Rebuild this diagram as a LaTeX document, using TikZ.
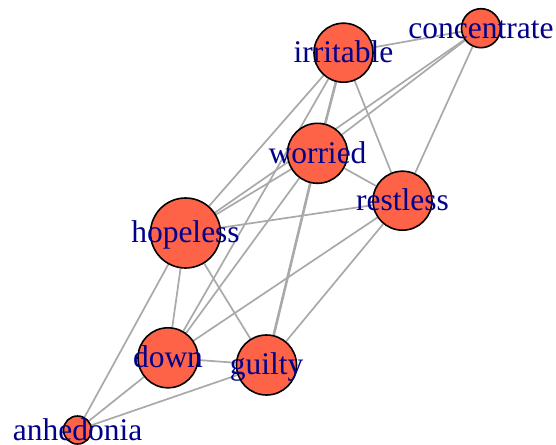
\documentclass[tikz,border=0pt]{standalone}
\usepackage{fontspec}
\setmainfont{Liberation Serif}
\usetikzlibrary{backgrounds}
\definecolor{vfill}{HTML}{FF6347}
\definecolor{vlabel}{HTML}{00008B}
\definecolor{edgegray}{HTML}{A9A9A9}
\begin{document}
\begin{tikzpicture}[x=1pt,y=-1pt,
  vertex/.style={circle,draw=black,line width=1.6pt,fill=vfill,inner sep=0pt,minimum size=#1},
  vlab/.style={anchor=base,inner sep=0pt,text=vlabel,font=\fontsize{31.5}{31.5}\selectfont},
  link/.style={draw=edgegray,line width=1.7pt},
  heavy/.style={draw=edgegray,line width=2.6pt}]
\useasboundingbox (0,0) rectangle (556,444);

% vertices
\node[vertex=59pt] (irritable)   at (343.5,52.7) {};
\node[vertex=39pt] (concentrate) at (481,28.2)   {};
\node[vertex=60pt] (worried)     at (317.5,153.3) {};
\node[vertex=59pt] (restless)    at (402.5,200.7) {};
\node[vertex=70pt] (hopeless)    at (185.5,233)  {};
\node[vertex=60pt] (down)        at (168,357.8)  {};
\node[vertex=60pt] (guilty)      at (266.5,365)  {};
\node[vertex=28pt] (anhedonia)   at (77.5,430)   {};

% edges, drawn beneath the vertices
\begin{scope}[on background layer]
  \draw[link]  (irritable) -- (concentrate);
  \draw[link]  (irritable) -- (hopeless);
  \draw[link]  (irritable) -- (down);
  \draw[heavy] (irritable) -- (worried);
  \draw[link]  (irritable) -- (restless);
  \draw[link]  (concentrate) -- (worried);
  \draw[link]  (concentrate) -- (hopeless);
  \draw[link]  (concentrate) -- (restless);
  \draw[link]  (worried) -- (hopeless);
  \draw[link]  (worried) -- (restless);
  \draw[link]  (worried) -- (down);
  \draw[heavy] (worried) -- (guilty);
  \draw[link]  (hopeless) -- (restless);
  \draw[link]  (restless) -- (down);
  \draw[link]  (restless) -- (guilty);
  \draw[link]  (hopeless) -- (down);
  \draw[link]  (hopeless) -- (guilty);
  \draw[link]  (hopeless) -- (anhedonia);
  \draw[link]  (down) -- (guilty);
  \draw[link]  (down) -- (anhedonia);
  \draw[link]  (guilty) -- (anhedonia);
\end{scope}

% labels on top of everything
\node[vlab] (irritable-l)   at (343.5,62.7)  {irritable};
\node[vlab] (concentrate-l) at (481,38.2)    {concentrate};
\node[vlab] (worried-l)     at (317.5,163.3) {worried};
\node[vlab] (restless-l)    at (402.5,210.7) {restless};
\node[vlab] (hopeless-l)    at (185.5,242)   {hopeless};
\node[vlab] (down-l)        at (168,367.8)   {down};
\node[vlab] (guilty-l)      at (266.5,374)   {guilty};
\node[vlab] (anhedonia-l)   at (77.5,440)    {anhedonia};
\end{tikzpicture}
\end{document}
